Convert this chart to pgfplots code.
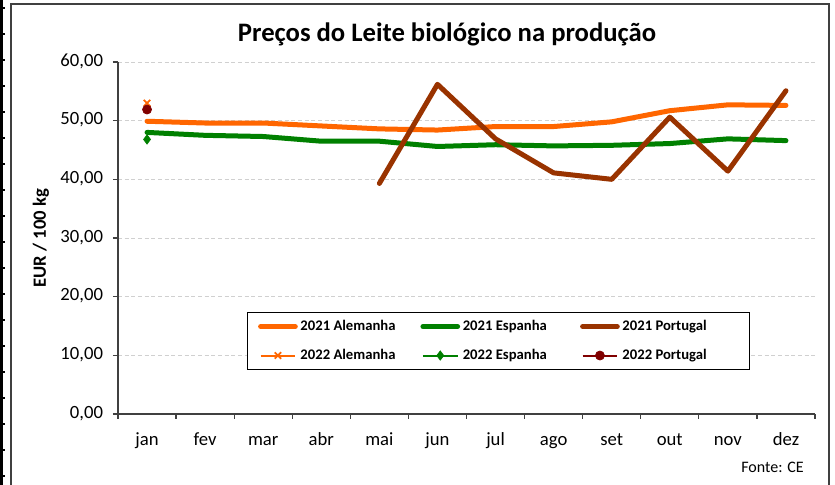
\documentclass[border=0pt]{standalone}
\usepackage{pgfplots}
\pgfplotsset{compat=1.18}
\usepackage{fontspec}
\setmainfont{Carlito}
\definecolor{ale}{HTML}{FF6600}
\definecolor{esp}{HTML}{008000}
\definecolor{por}{HTML}{993300}
\definecolor{porb}{HTML}{800000}
\definecolor{axc}{HTML}{404040}
\definecolor{gridc}{HTML}{D0D0D0}
\begin{document}
\begin{tikzpicture}
\begin{scope}[x=0.75pt,y=-0.75pt,shift={(-88.5pt,310.5pt)}]
\useasboundingbox (0,0) rectangle (835,485);
\fill[black] (0,0) rectangle (3,485);
\foreach \yy in {8,34,...,485} \draw[line width=1.5pt] (0,\yy) -- (5,\yy);
\draw[black!75, line width=0.9pt] (11,490) -- (11,4) -- (829,4) -- (829,490);
\node[anchor=east, inner sep=0pt, font=\fontsize{12}{14}\selectfont] at (804,467) {Fonte: CE};
\node[font=\bfseries\fontsize{20}{24}\selectfont, inner sep=0pt] at (447,34) {Preços do Leite biológico na produção};
\node[font=\bfseries\fontsize{14}{17}\selectfont, inner sep=0pt, rotate=90] at (41,238) {EUR / 100 kg};
\end{scope}
\begin{axis}[
  at={(0,0)}, anchor=south west, scale only axis,
  width=522.75pt, height=264pt,
  xmin=0.5, xmax=12.5, ymin=0, ymax=60,
  ytick={0,10,...,60},
  xtick={1,...,12},
  xticklabels={jan,fev,mar,abr,mai,jun,jul,ago,set,out,nov,dez},
  minor xtick={0.5,1.5,...,12.5},
  axis x line*=bottom, axis y line*=left,
  axis line style={axc, line width=0.9pt},
  tick align=outside,
  major tick length=3.75pt, minor tick length=3.75pt,
  major x tick style={draw=none},
  minor x tick style={axc, line width=0.9pt},
  major y tick style={axc, line width=0.9pt},
  ymajorgrids, grid style={gridc, dash pattern=on 3pt off 2pt, line width=0.6pt},
  typeset ticklabels with strut,
  ticklabel style={font=\fontsize{14}{16}\selectfont},
  xticklabel style={yshift=-5pt},
  yticklabel style={xshift=-4pt},
  /pgf/number format/.cd, fixed, fixed zerofill, precision=2, use comma, assume math mode=true,
  /pgfplots/.cd,
  legend columns=3,
  legend cell align=left,
  legend image code/.code={\draw[mark repeat=2,mark phase=2,#1] plot coordinates {(0pt,0pt) (13pt,0pt) (26pt,0pt)};},
  legend style={at={(axis description cs:0.185,0.29)}, anchor=north west,
    draw=black, line width=0.75pt, inner xsep=8pt, inner ysep=4pt,
    font=\bfseries\fontsize{11}{13}\selectfont, row sep=8.5pt, column sep=0pt},
]
\addplot[ale, line width=3.75pt, line cap=round, line join=round] coordinates {(1,49.9) (2,49.6) (3,49.6) (4,49.1) (5,48.6) (6,48.4) (7,49.0) (8,49.0) (9,49.8) (10,51.7) (11,52.7) (12,52.6)};
\addlegendentry{\makebox[88pt][l]{2021 Alemanha}}
\addplot[esp, line width=3.75pt, line cap=round, line join=round] coordinates {(1,48.0) (2,47.5) (3,47.3) (4,46.5) (5,46.5) (6,45.6) (7,45.9) (8,45.7) (9,45.8) (10,46.1) (11,46.9) (12,46.6)};
\addlegendentry{\makebox[86pt][l]{2021 Espanha}}
\addplot[por, line width=3.75pt, line cap=round, line join=round] coordinates {(5,39.3) (6,56.2) (7,46.9) (8,41.1) (9,40.0) (10,50.6) (11,41.4) (12,55.1)};
\addlegendentry{\makebox[85pt][l]{2021 Portugal}}
\addplot[ale, line width=1.5pt, mark=x, mark size=3.4pt, mark options={line width=1.3pt}] coordinates {(1,53.0)};
\addlegendentry{2022 Alemanha}
\addplot[esp, line width=1.5pt, mark=diamond*, mark size=3.5pt, mark options={fill=esp, line width=0.5pt}] coordinates {(1,46.8)};
\addlegendentry{2022 Espanha}
\addplot[porb, line width=1.5pt, mark=*, mark size=3.4pt, mark options={fill=porb, line width=0.5pt}] coordinates {(1,51.9)};
\addlegendentry{2022 Portugal}
\end{axis}
\end{tikzpicture}
\end{document}
